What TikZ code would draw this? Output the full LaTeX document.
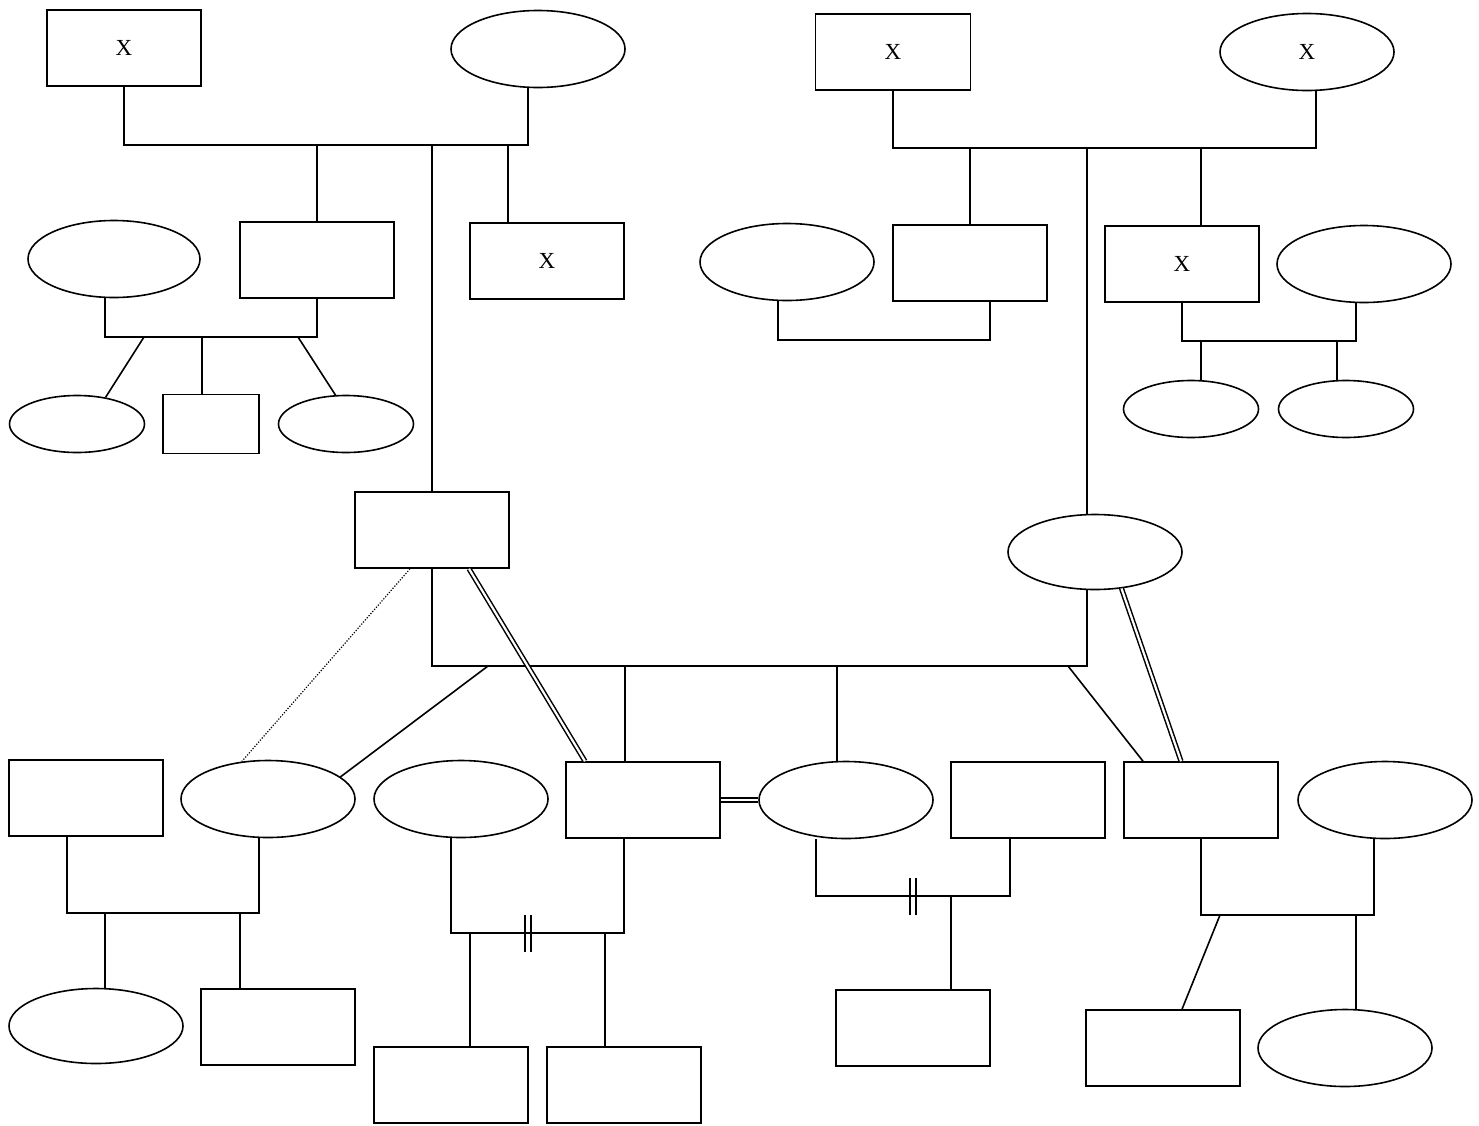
\documentclass[tikz,border=0pt]{standalone}
\usepackage{fontspec}
\setmainfont{Liberation Serif}
\usetikzlibrary{shapes.geometric}
\newcommand{\mk}{\raisebox{-3pt}{X}}
\begin{document}
\begin{tikzpicture}[x=1pt,y=-1pt,
  line width=1.6pt,
  male/.style={draw, rectangle, inner sep=0pt, line width=1.6pt, minimum width=154pt, minimum height=76pt, font=\fontsize{23}{27}\selectfont},
  female/.style={draw, ellipse, inner sep=0pt, line width=1.6pt, minimum width=174pt, minimum height=77pt, font=\fontsize{23}{27}\selectfont},
  smallf/.style={female, minimum width=135pt, minimum height=57pt},
  link/.style={line width=1.6pt},
  dbl/.style={double, double distance=2.2pt, line width=1.5pt},
  distant/.style={line width=1.2pt, dash pattern=on 1.2pt off 1.6pt},
  cut/.style={line width=1.6pt}
]
\useasboundingbox (0,0) rectangle (1479,1125);
\fill[white] (0,0) rectangle (1479,1125);

% ---------- persons ----------
\node[male] (R1) at (124,48) {\mk};
\node[female] (E1) at (538,49) {};
\node[male] (R2) at (317,260) {};
\node[male] (R3) at (547,261) {\mk};
\node[female, minimum width=172pt] (E2) at (114,259) {};
\node[smallf] (E3) at (77,424) {};
\node[male, minimum width=96pt, minimum height=59pt] (R4) at (211,424) {};
\node[smallf] (E4) at (346,424) {};
\node[male, minimum width=155pt] (R5) at (893,52) {\mk};
\node[female] (E5) at (1307,52) {\mk};
\node[female] (E6) at (787,262) {};
\node[male] (R6) at (970,263) {};
\node[male] (R7) at (1182,264) {\mk};
\node[female] (E7) at (1364,264) {};
\node[smallf] (E8) at (1191,409) {};
\node[smallf] (E9) at (1346,409) {};
\node[male] (R8) at (432,530) {};
\node[female, minimum height=75pt] (E10) at (1095,552) {};
\node[male] (R9) at (86,798) {};
\node[female] (E11) at (268,799) {};
\node[female] (E12) at (461,799) {};
\node[male] (R10) at (643,800) {};
\node[female] (E13) at (846,800) {};
\node[male] (R14) at (1028,800) {};
\node[male] (R15) at (1201,800) {};
\node[female] (E15) at (1385,800) {};
\node[female, minimum height=75pt] (E14) at (96,1026) {};
\node[male] (R11) at (278,1027) {};
\node[male] (R12) at (451,1085) {};
\node[male] (R13) at (624,1085) {};
\node[male] (R16) at (913,1028) {};
\node[male] (R17) at (1163,1048) {};
\node[female] (E16) at (1345,1048) {};

% ---------- couple R1-E1 ----------
\coordinate (m1a) at (124,145);
\coordinate (m1b) at (528,145);
\draw[link] (R1.south) -- (m1a) -- (m1b) -- (m1b |- E1.south);
\draw[link] (R2.north |- m1a) -- (R2.north);
\coordinate (d1) at (508,145);
\draw[link] (d1) -- (d1 |- R3.north);
\draw[link] (R8.north |- m1a) -- (R8.north);

% ---------- couple E2-R2 ----------
\coordinate (m2a) at (105,337);
\draw[link] (m2a |- E2.south) -- (m2a) -- (R2.south |- m2a) -- (R2.south);
\coordinate (k2a) at (144,337);
\coordinate (k2b) at (202,337);
\coordinate (k2c) at (298,337);
\draw[link] (k2a) -- (E3.43);
\draw[link] (k2b) -- (k2b |- R4.north);
\draw[link] (k2c) -- (E4.110);

% ---------- couple R5-E5 ----------
\coordinate (m3a) at (893,148);
\coordinate (m3b) at (1316,148);
\draw[link] (R5.south) -- (m3a) -- (m3b) -- (m3b |- E5.south);
\draw[link] (R6.north |- m3a) -- (R6.north);
\coordinate (d3) at (1201,148);
\draw[link] (d3) -- (d3 |- R7.north);
\coordinate (v3) at (1087,148);
\draw[link] (v3) -- (v3 |- E10.north);

% ---------- couple E6-R6 ----------
\coordinate (m4a) at (778,340);
\coordinate (m4b) at (990,340);
\draw[link] (m4a |- E6.south) -- (m4a) -- (m4b) -- (m4b |- R6.south);

% ---------- couple R7-E7 ----------
\coordinate (m5a) at (1182,341);
\coordinate (m5b) at (1356,341);
\draw[link] (R7.south) -- (m5a) -- (m5b) -- (m5b |- E7.south);
\coordinate (k5a) at (1201,341);
\coordinate (k5b) at (1337,341);
\draw[link] (k5a) -- (k5a |- E8.north);
\draw[link] (k5b) -- (k5b |- E9.north);

% ---------- couple R8-E10 ----------
\coordinate (m6a) at (432,666);
\coordinate (m6b) at (1087,666);
\draw[link] (R8.south) -- (m6a) -- (m6b) -- (m6b |- E10.south);
\coordinate (k6a) at (488,666);
\coordinate (k6b) at (625,666);
\coordinate (k6c) at (837,666);
\coordinate (k6d) at (1068,666);
\coordinate (t6) at (1143,0);
\draw[link] (k6a) -- (E11.17);
\draw[link] (k6b) -- (k6b |- R10.north);
\draw[link] (k6c) -- (k6c |- E13.north);
\draw[link] (k6d) -- (t6 |- R15.north);

% special relations
\coordinate (p1) at (469,0);
\coordinate (p2) at (585,0);
\draw[dbl] (p1 |- R8.south) -- (p2 |- R10.north);
\coordinate (p3) at (1181,0);
\draw[dbl] (E10.-54) -- (p3 |- R15.north);
\draw[dbl] (R10.east) -- (E13.west);
\coordinate (p4) at (410,0);
\draw[distant] (p4 |- R8.south) -- (E11.125);

% ---------- couple R9-E11 ----------
\coordinate (m7a) at (67,913);
\coordinate (m7b) at (259,913);
\draw[link] (m7a |- R9.south) -- (m7a) -- (m7b) -- (m7b |- E11.south);
\coordinate (k7a) at (105,913);
\coordinate (k7b) at (240,913);
\draw[link] (k7a) -- (k7a |- E14.north);
\draw[link] (k7b) -- (k7b |- R11.north);

% ---------- couple E12-R10 (separated) ----------
\coordinate (m8a) at (451,933);
\coordinate (m8b) at (624,933);
\draw[link] (m8a |- E12.south) -- (m8a) -- (m8b) -- (m8b |- R10.south);
\coordinate (s8) at (528,933);
\draw[cut] ([xshift=-3pt,yshift=-19pt]s8) -- ([xshift=-3pt,yshift=18pt]s8);
\draw[cut] ([xshift=3pt,yshift=-19pt]s8) -- ([xshift=3pt,yshift=18pt]s8);
\coordinate (k8a) at (470,933);
\coordinate (k8b) at (605,933);
\draw[link] (k8a) -- (k8a |- R12.north);
\draw[link] (k8b) -- (k8b |- R13.north);

% ---------- couple E13-R14 (separated) ----------
\coordinate (m9a) at (816,896);
\coordinate (m9b) at (1010,896);
\draw[link] (m9a |- E13.south) -- (m9a) -- (m9b) -- (m9b |- R14.south);
\coordinate (s9) at (913,896);
\draw[cut] ([xshift=-3pt,yshift=-19pt]s9) -- ([xshift=-3pt,yshift=18pt]s9);
\draw[cut] ([xshift=3pt,yshift=-19pt]s9) -- ([xshift=3pt,yshift=18pt]s9);
\coordinate (k9a) at (951,896);
\draw[link] (k9a) -- (k9a |- R16.north);

% ---------- couple R15-E15 ----------
\coordinate (m10a) at (1201,915);
\coordinate (m10b) at (1374,915);
\draw[link] (R15.south) -- (m10a) -- (m10b) -- (m10b |- E15.south);
\coordinate (k10a) at (1220,915);
\coordinate (t10) at (1182,0);
\coordinate (k10b) at (1356,915);
\draw[link] (k10a) -- (t10 |- R17.north);
\draw[link] (k10b) -- (k10b |- E16.north);
\end{tikzpicture}
\end{document}
